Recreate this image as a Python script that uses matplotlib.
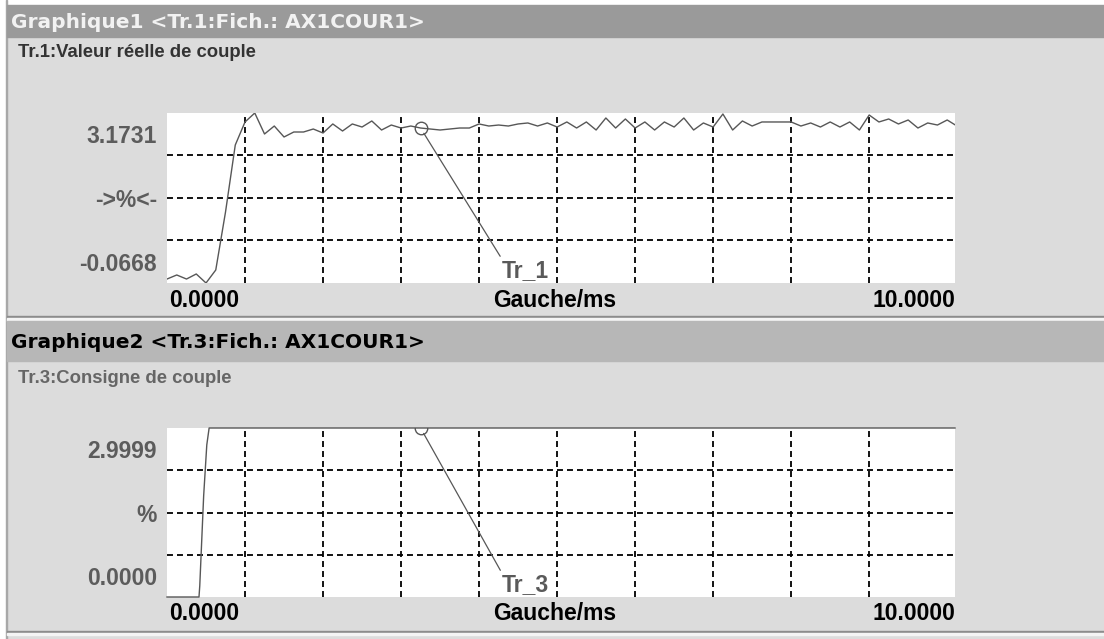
import numpy as np
import matplotlib.pyplot as plt
from matplotlib.patches import Rectangle

plt.rcParams['font.family'] = ['Liberation Sans', 'DejaVu Sans']
plt.rcParams['lines.scale_dashes'] = False

# Tr.1 : valeur réelle de couple (%), one sample every 0.125 ms
sample_ms = 0.125
torque_actual = [
    0.009, 0.086, 0.009, 0.105, -0.0668, 0.181, 1.286, 2.563, 3.002, 3.1731,
    2.773, 2.925, 2.716, 2.811, 2.811, 2.868, 2.792, 2.964, 2.830, 2.964,
    2.906, 3.021, 2.849, 2.944, 2.887, 2.925, 2.887, 2.868, 2.849, 2.868,
    2.887, 2.887, 2.964, 2.925, 2.944, 2.925, 2.964, 2.983, 2.925, 2.983,
    2.906, 3.002, 2.887, 3.002, 2.849, 3.078, 2.887, 3.059, 2.887, 3.002,
    2.849, 3.002, 2.906, 3.078, 2.849, 2.983, 2.906, 3.154, 2.849, 3.021,
    2.925, 3.002, 3.002, 3.002, 3.002, 2.925, 2.983, 2.906, 3.002, 2.906,
    3.002, 2.849, 3.135, 3.002, 3.059, 2.964, 3.040, 2.887, 2.983, 2.944,
    3.040, 2.925,
]
t_actual = np.arange(len(torque_actual)) * sample_ms

# Tr.3 : consigne de couple (%)
t_setpoint = [0.0, 0.41, 0.42, 0.47, 0.51, 0.54, 10.1]
torque_setpoint = [0.0, 0.0, 0.2, 1.8, 2.7, 2.9999, 2.9999]

x_span = (0.0, 10.1)
cursor_index = 26

panels = [
    dict(header="Graphique1 <Tr.1:Fich.: AX1COUR1>",
         title="Tr.1:Valeur réelle de couple",
         t=t_actual, v=torque_actual, ylim=(-0.0668, 3.1731),
         ylabels=["3.1731", "->%<-", "-0.0668"], trace="Tr_1"),
    dict(header="Graphique2 <Tr.3:Fich.: AX1COUR1>",
         title="Tr.3:Consigne de couple",
         t=t_setpoint, v=torque_setpoint, ylim=(0.0, 2.9999),
         ylabels=["2.9999", "%", "0.0000"], trace="Tr_3"),
]
x_labels = ["0.0000", "Gauche/ms", "10.0000"]

W, H = 1104, 639
BG = '#dcdcdc'
TRACE = '#575757'


def fx(px):
    return px / W


def fy(py):
    return 1 - py / H


fig = plt.figure(figsize=(W / 100, H / 100), dpi=100, facecolor=BG)


def band(y0, y1, color, x0=7, x1=W):
    fig.patches.append(Rectangle((fx(x0), fy(y1)), fx(x1) - fx(x0), (y1 - y0) / H,
                                 transform=fig.transFigure, color=color, zorder=0))


# window frame
band(0, 5, 'white', x0=0)
band(0, H, 'white', x0=0, x1=6)
band(0, H, '#a8a8a8', x0=6, x1=7)

# panel layout: header band, title baseline, plot box (top, bottom), x-label baseline
layout = [
    dict(head=(5, 37), head_color='#9a9a9a', head_text='#f2f2f2', head_base=28,
         title_base=57, title_color='#333333', box=(113, 283), xl_base=307),
    dict(head=(321, 361), head_color='#b7b7b7', head_text='black', head_base=348,
         title_base=383, title_color='#666666', box=(428, 597), xl_base=620),
]

band(316, 318, '#8c8c8c')
band(318, 321, '#f4f4f4')
band(631, 633, '#8c8c8c')
band(633, 635, '#f4f4f4')

for p, lay in zip(panels, layout):
    band(*lay['head'], lay['head_color'])
    fig.text(fx(11), fy(lay['head_base']), p['header'], family='DejaVu Sans',
             fontweight='bold', fontsize=14.5, color=lay['head_text'], va='baseline')
    fig.text(fx(18), fy(lay['title_base']), p['title'],
             fontweight='bold', fontsize=13.3, color=lay['title_color'], va='baseline')

    top, bottom = lay['box']
    ax = fig.add_axes([fx(167), fy(bottom), fx(955) - fx(167), (bottom - top) / H])
    ax.set_facecolor('white')
    for s in ax.spines.values():
        s.set_visible(False)
    ax.set_xlim(*x_span)
    ax.set_ylim(*p['ylim'])
    ax.set_xticks(np.arange(1, 10))
    ax.set_yticks(np.linspace(*p['ylim'], 5)[1:-1])
    ax.tick_params(length=0, labelbottom=False, labelleft=False)
    ax.grid(True, color='black', linewidth=1.3, linestyle=(0, (4.3, 2.9)))
    ax.set_axisbelow(True)

    clip = p['trace'] == 'Tr_1'
    ax.plot(p['t'], p['v'], color=TRACE, linewidth=1.0, clip_on=clip, zorder=3)

    # cursor circle + leader to trace name
    tc = t_actual[cursor_index]
    vc = np.interp(tc, p['t'], p['v'])
    ax.plot([tc], [vc], 'o', mfc='none', mec=TRACE, ms=9, mew=1.0, zorder=4)
    ax.annotate(p['trace'], xy=(tc, vc), xytext=(0.425, 0.035),
                textcoords='axes fraction', ha='left', va='baseline',
                fontsize=16.5, fontweight='bold', color='#5a5a5a',
                arrowprops=dict(arrowstyle='-', color=TRACE, lw=0.9,
                                shrinkA=0, shrinkB=4.5, relpos=(0, 1)))

    # y labels in the top, middle and bottom rows
    for frac, lab in zip([7 / 8, 1 / 2, 1 / 8], p['ylabels']):
        ax.text(-0.013, frac, lab, transform=ax.transAxes, ha='right',
                va='center_baseline', fontsize=16.5, fontweight='bold',
                color='#5c5c5c')

    xb = fy(lay['xl_base'])
    fig.text(fx(169), xb, x_labels[0], ha='left', va='baseline',
             fontsize=16.5, fontweight='bold', color='black')
    fig.text(fx(555), xb, x_labels[1], ha='center', va='baseline',
             fontsize=16.5, fontweight='bold', color='black')
    fig.text(fx(955), xb, x_labels[2], ha='right', va='baseline',
             fontsize=16.5, fontweight='bold', color='black')

fig.savefig('out.png', dpi=100, facecolor=BG)
